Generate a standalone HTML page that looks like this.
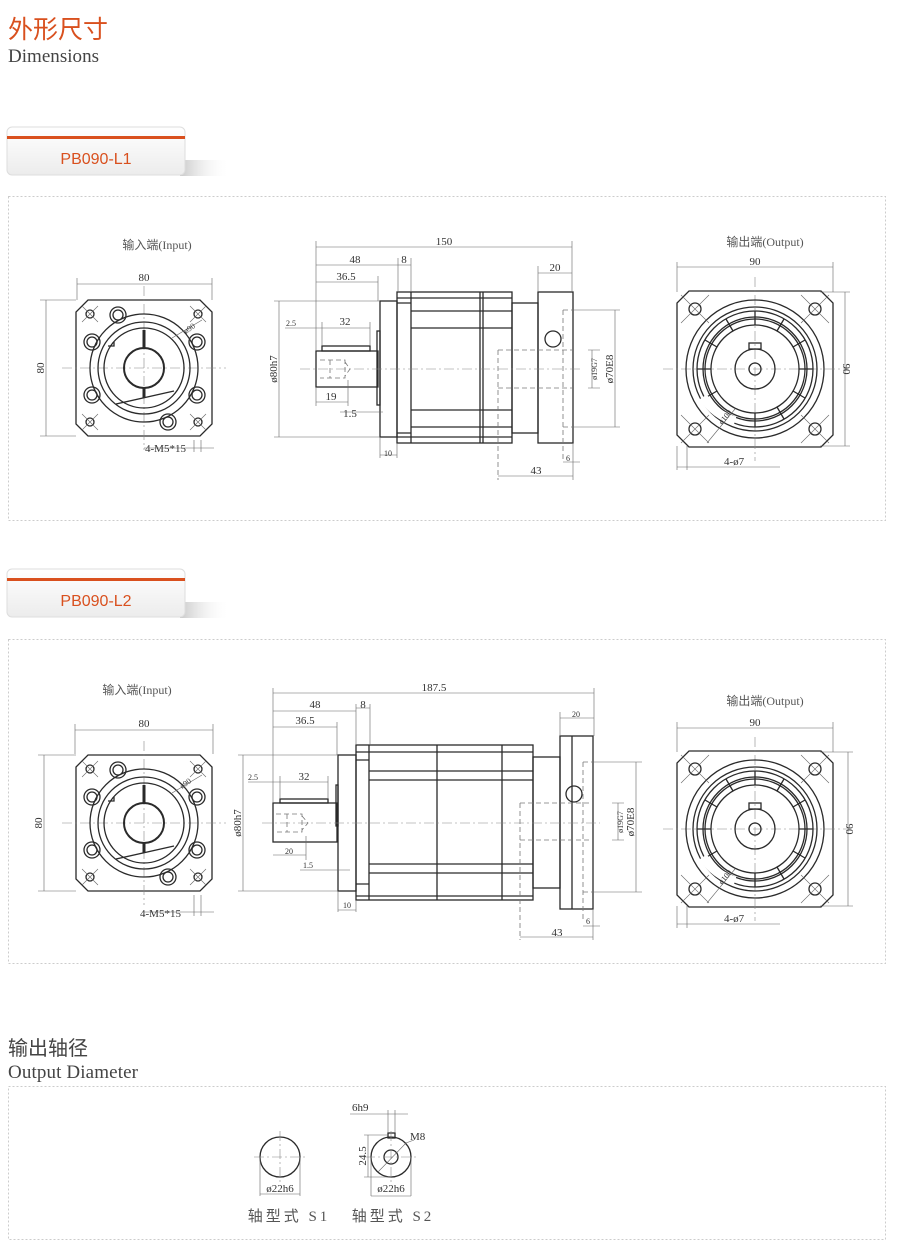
<!DOCTYPE html>
<html><head><meta charset="utf-8"><style>
html,body{margin:0;padding:0;background:#fff;}
svg{display:block}
.ol{fill:none;stroke:#2a2a2a;stroke-width:1.3}
.th{fill:none;stroke:#2a2a2a;stroke-width:2}
.dm{fill:none;stroke:#666;stroke-width:0.6}
.cl{fill:none;stroke:#888;stroke-width:0.6;stroke-dasharray:10 3 2 3}
.hd{fill:none;stroke:#777;stroke-width:0.8;stroke-dasharray:5 3}
text.t{font-family:"Liberation Serif","Noto Serif CJK SC",serif;font-size:11px;fill:#333}
text.s{font-family:"Liberation Serif","Noto Serif CJK SC",serif;font-size:8px;fill:#333}
text.c{font-family:"Liberation Serif","Noto Sans CJK SC",serif;font-size:12px;fill:#555}
</style></head><body>
<svg width="900" height="1259" viewBox="0 0 900 1259" xmlns="http://www.w3.org/2000/svg">
<defs>
<linearGradient id="tg" x1="0" y1="0" x2="0" y2="1"><stop offset="0" stop-color="#ffffff"/><stop offset="1" stop-color="#ececec"/></linearGradient>
<linearGradient id="sh" x1="0" y1="0" x2="1" y2="0"><stop offset="0" stop-color="#bbb" stop-opacity="0.8"/><stop offset="1" stop-color="#fff" stop-opacity="0"/></linearGradient>
<g id="inp">
<path class="ol" d="M-56,-68 H56 L68,-56 V56 L56,68 H-56 L-68,56 V-56 Z"/>
<line class="cl" x1="-82" y1="0" x2="82" y2="0"/><line class="cl" x1="0" y1="-82" x2="0" y2="82"/>
<circle class="ol" cx="0" cy="0" r="54"/><circle class="ol" cx="0" cy="0" r="46"/><circle class="ol" cx="0" cy="0" r="40"/>
<circle class="th" cx="0" cy="0" r="20"/>
<rect x="-1.5" y="-38" width="3" height="18" fill="#2a2a2a"/><rect x="-1.5" y="20" width="3" height="10" fill="#2a2a2a"/>
<path class="ol" d="M-28,36 L30,23"/><path class="ol" d="M-36,-22 h6 v-4"/>
<g class="ol">
<circle cx="-26" cy="-53" r="8"/><circle cx="-26" cy="-53" r="5"/>
<circle cx="-52" cy="-26" r="8"/><circle cx="-52" cy="-26" r="5"/>
<circle cx="-52" cy="27" r="8"/><circle cx="-52" cy="27" r="5"/>
<circle cx="24" cy="54" r="8"/><circle cx="24" cy="54" r="5"/>
<circle cx="53" cy="-26" r="8"/><circle cx="53" cy="-26" r="5"/>
<circle cx="53" cy="27" r="8"/><circle cx="53" cy="27" r="5"/>
<circle cx="-54" cy="-54" r="4"/><circle cx="54" cy="-54" r="4"/><circle cx="-54" cy="54" r="4"/><circle cx="54" cy="54" r="4"/>
</g>
<g class="dm"><path d="M-62,-62 l16,16 M-46,-62 l-16,16 M62,-62 l-16,16 M46,-62 l16,16 M-62,62 l16,-16 M-46,62 l-16,-16 M62,62 l-16,-16 M46,62 l16,-16"/></g>
<line class="dm" x1="28" y1="-30" x2="58" y2="-48"/>
</g>
<g id="outp">
<path class="ol" d="M-66,-78 H66 L78,-66 V66 L66,78 H-66 L-78,66 V-66 Z"/>
<line class="cl" x1="-92" y1="0" x2="92" y2="0"/><line class="cl" x1="0" y1="-92" x2="0" y2="92"/>
<circle class="ol" cx="0" cy="0" r="69"/><circle class="ol" cx="0" cy="0" r="62"/>
<circle class="ol" cx="0" cy="0" r="58"/><circle class="ol" cx="0" cy="0" r="52"/>
<circle class="ol" cx="0" cy="0" r="50"/><circle class="ol" cx="0" cy="0" r="44"/>
<g class="ol" stroke-width="1.3">
<path d="M0,-44 V-58 M22,-38 L29,-50 M38,-22 L50,-29 M44,0 H58 M38,22 L50,29 M22,38 L29,50 M0,44 V58 M-22,-38 L-29,-50 M-38,-22 L-50,-29 M-44,0 H-58 M-38,22 L-50,29"/>
</g>
<path d="M-52,28 A 59 59 0 0 0 -20,52" stroke="#fff" stroke-width="9" fill="none"/>
<circle class="ol" cx="0" cy="0" r="20"/><circle class="ol" cx="0" cy="0" r="6"/>
<rect class="ol" x="-6" y="-26" width="12" height="6"/>
<g class="ol"><circle cx="-60" cy="-60" r="6"/><circle cx="60" cy="-60" r="6"/><circle cx="-60" cy="60" r="6"/><circle cx="60" cy="60" r="6"/></g>
<g class="dm"><path d="M-74,-74 l28,28 M-46,-74 l-28,28 M74,-74 l-28,28 M46,-74 l28,28 M-74,74 l28,-28 M-46,74 l-28,-28 M74,74 l-28,-28 M46,74 l28,-28"/></g>
<line class="dm" x1="-20" y1="40" x2="-48" y2="74"/>
</g>
</defs>

<!-- headings -->
<text x="8" y="38" font-family="'Liberation Sans','Noto Sans CJK SC',sans-serif" font-size="25" fill="#d9501e">外形尺寸</text>
<text x="8" y="62" font-family="'Liberation Serif',serif" font-size="19" fill="#444" textLength="91">Dimensions</text>

<!-- tab 1 -->
<rect x="180" y="160" width="50" height="16" fill="url(#sh)"/>
<rect x="7" y="127" width="178" height="48" rx="5" fill="url(#tg)" stroke="#ddd"/>
<rect x="7" y="136" width="178" height="3" fill="#d9501e"/>
<text x="96" y="164" text-anchor="middle" font-family="'Liberation Sans',sans-serif" font-size="16" fill="#d9501e">PB090-L1</text>
<rect x="8.5" y="196.5" width="877" height="324" fill="none" stroke="#ccc" stroke-dasharray="2 2"/>

<!-- tab 2 -->
<rect x="180" y="602" width="50" height="16" fill="url(#sh)"/>
<rect x="7" y="569" width="178" height="48" rx="5" fill="url(#tg)" stroke="#ddd"/>
<rect x="7" y="578" width="178" height="3" fill="#d9501e"/>
<text x="96" y="606" text-anchor="middle" font-family="'Liberation Sans',sans-serif" font-size="16" fill="#d9501e">PB090-L2</text>
<rect x="8.5" y="639.5" width="877" height="324" fill="none" stroke="#ccc" stroke-dasharray="2 2"/>

<!-- section 3 -->
<text x="8" y="1055" font-family="'Liberation Sans','Noto Sans CJK SC',sans-serif" font-size="20" fill="#444">输出轴径</text>
<text x="8" y="1078" font-family="'Liberation Serif',serif" font-size="19" fill="#444" textLength="130">Output Diameter</text>
<rect x="8.5" y="1086.5" width="877" height="153" fill="none" stroke="#ccc" stroke-dasharray="2 2"/>

<!-- ===== Section 1 input ===== -->
<text class="c" x="157" y="249" text-anchor="middle">输入端(Input)</text>
<use href="#inp" transform="translate(144,368)"/>
<g class="dm"><path d="M77,284 H212 M77,278 V300 M212,278 V300 M46,300 V436 M40,300 H76 M40,436 H76 M144,448 H214 M194,440 V452 M201,440 V452"/></g>
<text class="t" x="144" y="281" text-anchor="middle">80</text>
<text class="t" x="0" y="0" transform="translate(44,368) rotate(-90)" text-anchor="middle">80</text>
<text class="s" x="0" y="0" transform="translate(186,334) rotate(-35)">ø90</text>
<text class="t" x="145" y="452">4-M5*15</text>

<!-- ===== Section 1 side ===== -->
<g class="ol">
<rect x="316" y="351" width="62" height="36"/>
<rect x="322" y="346" width="48" height="5"/>
<rect x="377" y="331" width="3" height="74"/>
<rect x="380" y="301" width="17" height="136"/>
<rect x="397" y="292" width="115" height="151"/>
<path d="M397,298 H512 M397,303 H411 M411,292 V443 M411,328 H512 M411,311 H512 M480,292 V443 M483,292 V443 M397,433 H411 M411,410 H512 M411,427 H512 M397,437 H512"/>
<rect x="512" y="303" width="26" height="130"/>
<rect x="538" y="292" width="35" height="151"/>
<circle cx="553" cy="339" r="8"/>
</g>
<g class="hd"><path d="M320,360 H345 V378 H320 M330,360 V378 M345,362 L350,369 L345,376 M498,350 H573 M498,388 H573 M498,350 V480 M563,310 V462 M563,310 H573 M563,427 H573"/></g>
<line class="cl" x1="300" y1="369" x2="580" y2="369"/>
<g class="dm">
<path d="M316,247 H572 M316,241 V351 M572,241 V292 M316,265 H398 M398,258 V292 M398,265 H411 M411,258 V292 M316,282 H378 M378,276 V301 M538,273 H572 M538,266 V292 M322,328 H370 M285,328 H322 M322,322 V346 M370,322 V346 M279,301 V437 M274,301 H380 M274,437 H380 M316,402 H348 M348,380 V406 M316,387 V406 M340,412 H383 M380,437 V458 M397,443 V458 M380,455 H397 M563,462 H580 M573,443 V480 M498,476 H573 M592,350 V388 M588,350 H600 M588,388 H600 M615,310 V427 M573,310 H620 M573,427 H620"/>
</g>
<text class="t" x="444" y="245" text-anchor="middle">150</text>
<text class="t" x="355" y="263" text-anchor="middle">48</text>
<text class="t" x="404" y="263" text-anchor="middle">8</text>
<text class="t" x="346" y="280" text-anchor="middle">36.5</text>
<text class="t" x="555" y="271" text-anchor="middle">20</text>
<text class="t" x="345" y="325" text-anchor="middle">32</text>
<text class="s" x="286" y="326">2.5</text>
<text class="t" x="0" y="0" transform="translate(277,369) rotate(-90)" text-anchor="middle">ø80h7</text>
<text class="t" x="331" y="400" text-anchor="middle">19</text>
<text class="t" x="350" y="417" text-anchor="middle">1.5</text>
<text class="s" x="388" y="456" text-anchor="middle">10</text>
<text class="s" x="568" y="461" text-anchor="middle">6</text>
<text class="t" x="536" y="474" text-anchor="middle">43</text>
<text class="s" x="0" y="0" transform="translate(597,369) rotate(-90)" text-anchor="middle">ø19G7</text>
<text class="t" x="0" y="0" transform="translate(613,369) rotate(-90)" text-anchor="middle">ø70E8</text>

<!-- ===== Section 1 output ===== -->
<text class="c" x="765" y="246" text-anchor="middle">输出端(Output)</text>
<use href="#outp" transform="translate(755,369)"/>
<g class="dm"><path d="M677,267 H833 M677,262 V292 M833,262 V292 M845,292 V446 M820,292 H850 M820,446 H850 M677,446 V470 M687,446 V470 M677,467 H780"/></g>
<text class="t" x="755" y="265" text-anchor="middle">90</text>
<text class="t" x="0" y="0" transform="translate(843,369) rotate(90)" text-anchor="middle">90</text>
<text class="s" x="0" y="0" transform="translate(722,425) rotate(-50)">ø100</text>
<text class="t" x="724" y="465">4-ø7</text>

<!-- ===== Section 2 input ===== -->
<text class="c" x="137" y="694" text-anchor="middle">输入端(Input)</text>
<use href="#inp" transform="translate(144,823)"/>
<g class="dm"><path d="M75,730 H213 M75,724 V754 M213,724 V754 M44,755 V891 M38,755 H76 M38,891 H76 M144,912 H214 M194,895 V916 M201,895 V916"/></g>
<text class="t" x="144" y="727" text-anchor="middle">80</text>
<text class="t" x="0" y="0" transform="translate(42,823) rotate(-90)" text-anchor="middle">80</text>
<text class="s" x="0" y="0" transform="translate(182,789) rotate(-35)">ø90</text>
<text class="t" x="140" y="917">4-M5*15</text>

<!-- ===== Section 2 side ===== -->
<g class="ol">
<rect x="273" y="803" width="64" height="39"/>
<rect x="280" y="799" width="48" height="4"/>
<rect x="336" y="785" width="2" height="41"/>
<rect x="338" y="755" width="18" height="136"/>
<rect x="356" y="745" width="177" height="155"/>
<path d="M356,752 H533 M356,760 H369 M369,745 V900 M369,771 H533 M369,780 H533 M437,745 V900 M502,745 V900 M356,884 H369 M369,864 H533 M369,873 H533 M356,896 H533"/>
<rect x="533" y="757" width="27" height="131"/>
<rect x="560" y="736" width="33" height="173"/>
<path d="M572,736 V909"/>
<circle cx="574" cy="794" r="8"/>
</g>
<g class="hd"><path d="M276,814 H302 V832 H276 M287,814 V832 M302,816 L308,823 L302,830 M520,803 H593 M520,840 H593 M520,803 V940 M583,762 V920 M583,762 H593 M583,892 H593"/></g>
<line class="cl" x1="262" y1="823" x2="600" y2="823"/>
<g class="dm">
<path d="M273,693 H594 M273,688 V803 M594,688 V736 M273,711 H356 M356,704 V745 M356,708 H370 M370,704 V745 M273,727 H337 M337,722 V755 M560,718 H594 M560,712 V736 M280,782 H328 M248,782 H280 M280,776 V799 M328,776 V799 M243,755 V891 M238,755 H338 M238,891 H338 M273,855 H306 M306,836 V860 M300,870 H350 M338,891 V912 M356,900 V912 M338,910 H356 M583,926 H600 M593,909 V940 M520,937 H593 M618,803 V840 M612,803 H624 M612,840 H624 M636,762 V892 M593,762 H642 M593,892 H642"/>
</g>
<text class="t" x="434" y="691" text-anchor="middle">187.5</text>
<text class="t" x="315" y="708" text-anchor="middle">48</text>
<text class="t" x="363" y="708" text-anchor="middle">8</text>
<text class="t" x="305" y="724" text-anchor="middle">36.5</text>
<text class="s" x="576" y="717" text-anchor="middle">20</text>
<text class="t" x="304" y="780" text-anchor="middle">32</text>
<text class="s" x="248" y="780">2.5</text>
<text class="t" x="0" y="0" transform="translate(241,823) rotate(-90)" text-anchor="middle">ø80h7</text>
<text class="s" x="289" y="854" text-anchor="middle">20</text>
<text class="s" x="308" y="868" text-anchor="middle">1.5</text>
<text class="s" x="347" y="908" text-anchor="middle">10</text>
<text class="s" x="588" y="924" text-anchor="middle">6</text>
<text class="t" x="557" y="936" text-anchor="middle">43</text>
<text class="s" x="0" y="0" transform="translate(623,822) rotate(-90)" text-anchor="middle">ø19G7</text>
<text class="t" x="0" y="0" transform="translate(634,822) rotate(-90)" text-anchor="middle">ø70E8</text>

<!-- ===== Section 2 output ===== -->
<text class="c" x="765" y="705" text-anchor="middle">输出端(Output)</text>
<use href="#outp" transform="translate(755,829)"/>
<g class="dm"><path d="M677,728 H833 M677,722 V752 M833,722 V752 M848,752 V906 M820,752 H853 M820,906 H853 M677,906 V928 M687,906 V928 M677,924 H780"/></g>
<text class="t" x="755" y="726" text-anchor="middle">90</text>
<text class="t" x="0" y="0" transform="translate(846,829) rotate(90)" text-anchor="middle">90</text>
<text class="s" x="0" y="0" transform="translate(722,885) rotate(-50)">ø100</text>
<text class="t" x="724" y="922">4-ø7</text>

<!-- ===== Section 3 shafts ===== -->
<circle class="ol" cx="280" cy="1157" r="20"/>
<line class="cl" x1="254" y1="1157" x2="306" y2="1157"/><line class="cl" x1="280" y1="1131" x2="280" y2="1183"/>
<g class="dm"><path d="M260,1157 V1196 M300,1157 V1196 M260,1194 H300"/></g>
<text class="t" x="280" y="1192" text-anchor="middle">ø22h6</text>
<text class="c" x="289" y="1221" text-anchor="middle" style="font-size:15px;letter-spacing:3px">轴型式 S1</text>

<circle class="ol" cx="391" cy="1157" r="20"/>
<circle class="ol" cx="391" cy="1157" r="7"/>
<rect class="ol" x="388" y="1133" width="7" height="5"/>
<line class="cl" x1="365" y1="1157" x2="417" y2="1157"/><line class="cl" x1="391" y1="1131" x2="391" y2="1183"/>
<g class="dm"><path d="M388,1133 V1110 M395,1133 V1110 M350,1114 H408 M368,1135 V1177 M364,1135 H388 M364,1177 H391 M371,1196 H411 M371,1157 V1196 M411,1157 V1196 M378,1172 L406,1143 L414,1140"/></g>
<text class="t" x="352" y="1111">6h9</text>
<text class="t" x="410" y="1140">M8</text>
<text class="t" x="0" y="0" transform="translate(366,1156) rotate(-90)" text-anchor="middle">24.5</text>
<text class="t" x="391" y="1192" text-anchor="middle">ø22h6</text>
<text class="c" x="393" y="1221" text-anchor="middle" style="font-size:15px;letter-spacing:3px">轴型式 S2</text>
</svg>
</body></html>
